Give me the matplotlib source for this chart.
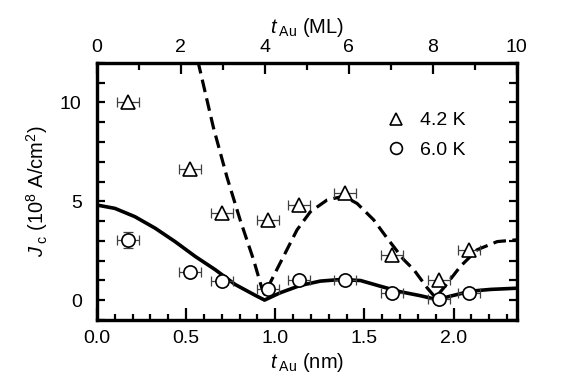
import matplotlib
matplotlib.use("Agg")
import matplotlib.pyplot as plt
from matplotlib.ticker import MultipleLocator
from matplotlib.lines import Line2D

plt.rcParams['font.family'] = ['Liberation Sans', 'DejaVu Sans']
plt.rcParams['mathtext.fontset'] = 'custom'
plt.rcParams['mathtext.rm'] = 'Liberation Sans'
plt.rcParams['mathtext.it'] = 'Liberation Sans:italic'

# measured points (t_Au in nm)
t_nm = [0.176, 0.522, 0.700, 0.957, 1.135, 1.393, 1.655, 1.917, 2.086]
jc_42K = [10.0, 6.65, 4.39, 4.06, 4.81, 5.40, 2.30, 1.04, 2.51]
jc_60K = [3.05, 1.43, 0.96, 0.54, 1.01, 1.01, 0.37, 0.07, 0.37]
x_err = [0.062] * 9
y_err_60K = [0.4, 0, 0, 0, 0, 0, 0, 0, 0]

# solid curve
solid_x = [0.0, 0.101, 0.213, 0.326, 0.438, 0.551, 0.663, 0.775, 0.888, 0.94,
           1.028, 1.14, 1.253, 1.365, 1.478, 1.59, 1.702, 1.815, 1.908,
           1.983, 2.096, 2.208, 2.355]
solid_y = [4.81, 4.64, 4.22, 3.64, 2.96, 2.21, 1.54, 0.79, 0.24, 0.0,
           0.37, 0.74, 0.96, 1.04, 0.99, 0.70, 0.42, 0.22, 0.02,
           0.2, 0.45, 0.54, 0.60]

# dashed curve
dash_x = [0.566, 0.653, 0.729, 0.803, 0.878, 0.925, 0.94, 0.99, 1.056, 1.122,
          1.197, 1.29, 1.384, 1.459, 1.552, 1.627, 1.72, 1.777, 1.852, 1.899,
          1.945, 2.039, 2.133, 2.245, 2.355]
dash_y = [12.1, 8.74, 6.23, 4.06, 2.05, 0.6, 0.3, 1.21, 2.38, 3.55,
          4.47, 5.06, 5.26, 4.89, 4.06, 3.14, 2.05, 1.54, 0.62, 0.12,
          0.62, 1.71, 2.55, 2.96, 3.05]

nm_per_ml = 0.2355

fig = plt.figure(figsize=(5.84, 3.91), dpi=100)
ax = fig.add_axes([0.166, 0.182, 0.719, 0.657])

ax.plot(solid_x, solid_y, color='black', lw=2.6, zorder=2)
ax.plot(dash_x, dash_y, color='black', lw=2.3, dashes=(4, 2), zorder=2)

ax.errorbar(t_nm, jc_42K, xerr=x_err, fmt='none', ecolor='0.25', elinewidth=0.9,
            capsize=3.5, capthick=0.9, zorder=3)
ax.errorbar(t_nm, jc_60K, xerr=x_err, yerr=y_err_60K, fmt='none', ecolor='0.25',
            elinewidth=0.9, capsize=3.5, capthick=0.9, zorder=3)
ax.plot(t_nm, jc_42K, linestyle='none', marker='^', ms=10, mfc='white',
        mec='black', mew=1.2, zorder=4)
ax.plot(t_nm, jc_60K, linestyle='none', marker='o', ms=9.5, mfc='white',
        mec='black', mew=1.2, zorder=4)

ax.set_xlim(0, 10 * nm_per_ml)
ax.set_ylim(-1, 12)
ax.xaxis.set_minor_locator(MultipleLocator(0.1))
ax.yaxis.set_major_locator(MultipleLocator(5))
ax.yaxis.set_minor_locator(MultipleLocator(1))
ax.set_xticks([0.0, 0.5, 1.0, 1.5, 2.0])
ax.set_xticklabels(['0.0', '0.5', '1.0', '1.5', '2.0'])

ax.tick_params(axis='x', which='both', direction='in', top=False, labelsize=14, pad=7, width=1.6)
ax.tick_params(axis='x', which='major', length=9)
ax.tick_params(axis='x', which='minor', length=4.5)
ax.tick_params(axis='y', which='both', direction='in', right=True, labelsize=14, pad=11,
               width=1.6, length=5.5)

for s in ax.spines.values():
    s.set_linewidth(2.3)

ax2 = ax.twiny()
ax2.set_xlim(0, 10)
ax2.xaxis.set_major_locator(MultipleLocator(2))
ax2.xaxis.set_minor_locator(MultipleLocator(1))
ax2.tick_params(axis='x', which='both', direction='in', labelsize=14, pad=5, width=1.6)
ax2.tick_params(axis='x', which='major', length=8)
ax2.tick_params(axis='x', which='minor', length=5)
for s in ax2.spines.values():
    s.set_linewidth(2.3)

ax.set_xlabel(r'$\mathit{t}_{\;\mathrm{Au}}$ (nm)', fontsize=14.5, labelpad=3)
ax2.set_xlabel(r'$\mathit{t}_{\;\mathrm{Au}}$ (ML)', fontsize=14.5, labelpad=4)
ax.set_ylabel(r'$\mathit{J}_{\;\mathrm{c}}$ (10$^{8}$ A/cm$^{2}$)', fontsize=14.5, labelpad=7)

handles = [Line2D([], [], linestyle='none', marker='^', ms=8.5, mfc='white', mec='black', mew=1.2),
           Line2D([], [], linestyle='none', marker='o', ms=8.5, mfc='white', mec='black', mew=1.2)]
ax.legend(handles, ['4.2 K', '6.0 K'], loc='upper left', bbox_to_anchor=(0.688, 0.81),
          frameon=False, fontsize=14, borderpad=0, borderaxespad=0,
          handlelength=1.0, handletextpad=0.75, labelspacing=0.6)

fig.savefig('out.png', dpi=100)
